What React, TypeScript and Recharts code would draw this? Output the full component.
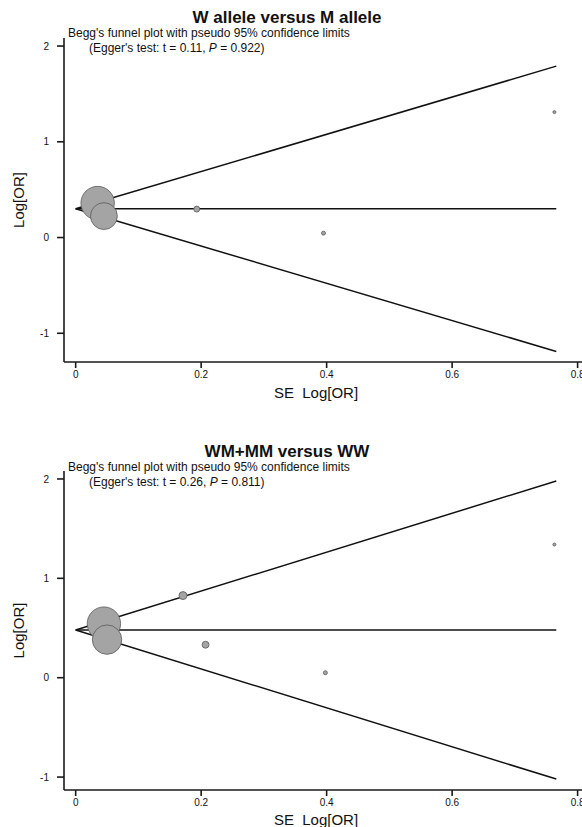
import React from "react";
import {
  ComposedChart,
  Line,
  Scatter,
  XAxis,
  YAxis,
  Label,
} from "recharts";

const FONT = '"Liberation Sans", Arial, Helvetica, sans-serif';

// W allele versus M allele
const topStudySE = [0.035, 0.045, 0.193, 0.395, 0.763];
const topStudyLogOR = [0.36, 0.224, 0.297, 0.046, 1.31];
const topStudyWeight = [279, 180, 9, 4, 2.25];
const topLimitSE = [0, 0.766];
const topPooled = [0.3, 0.3];
const topUpper = [0.3, 1.79];
const topLower = [0.3, -1.19];

// WM+MM versus WW
const botStudySE = [0.045, 0.05, 0.171, 0.207, 0.398, 0.763];
const botStudyLogOR = [0.544, 0.383, 0.826, 0.332, 0.05, 1.34];
const botStudyWeight = [279, 216, 16, 12, 4, 2.25];
const botLimitSE = [0, 0.766];
const botPooled = [0.48, 0.48];
const botUpper = [0.48, 1.98];
const botLower = [0.48, -1.02];

const xTicks = [0, 0.2, 0.4, 0.6, 0.8];
const yTicks = [-1, 0, 1, 2];

const toRows = (se: number[], v: number[], w?: number[]) =>
  se.map((s, i) => ({ se: s, v: v[i], w: w ? w[i] : 0 }));

const StudyDot = (props: any) => {
  const { cx, cy, payload } = props;
  if (cx == null || cy == null) return null;
  return (
    <circle
      cx={cx}
      cy={cy}
      r={Math.sqrt(payload.w)}
      fill="#a4a4a4"
      stroke="#5a5a5a"
      strokeWidth={0.8}
    />
  );
};

const YTitle = (props: any) => {
  const vb = props.viewBox || { x: 0, y: 0, height: 0 };
  const cx = 24;
  const cy = vb.y + vb.height / 2;
  return (
    <text
      x={cx}
      y={cy}
      transform={`rotate(-90, ${cx}, ${cy})`}
      textAnchor="middle"
      fontSize={15}
      fontFamily={FONT}
      fill="#111"
    >
      Log[OR]
    </text>
  );
};

const makeXTitle = (dy: number) => (props: any) => {
  const vb = props.viewBox || { x: 0, y: 0, width: 0 };
  return (
    <text
      x={vb.x + vb.width / 2 - 7}
      y={vb.y + dy}
      textAnchor="middle"
      fontSize={15}
      fontFamily={FONT}
      fill="#111"
    >
      {"SE\u00a0 Log[OR]"}
    </text>
  );
};

interface PanelProps {
  top: number;
  height: number;
  marginTop: number;
  xAxisHeight: number;
  yDomain: [number, number];
  studies: { se: number; v: number; w: number }[];
  pooled: { se: number; v: number }[];
  upper: { se: number; v: number }[];
  lower: { se: number; v: number }[];
  titleDy: number;
}

function FunnelPanel(p: PanelProps) {
  const axisColor = "#1a1a1a";
  return (
    <div style={{ position: "absolute", left: 0, top: p.top }}>
      <ComposedChart
        width={582}
        height={p.height}
        margin={{ top: p.marginTop, right: 0, bottom: 0, left: 0 }}
      >
        <XAxis
          type="number"
          dataKey="se"
          domain={[-0.0186, 0.807]}
          ticks={xTicks}
          allowDataOverflow
          height={p.xAxisHeight}
          interval={0}
          tickSize={6}
          tickMargin={3}
          axisLine={{ stroke: axisColor, strokeWidth: 1.6 }}
          tickLine={{ stroke: axisColor, strokeWidth: 1.6 }}
          tick={{ fontSize: 10, fill: "#111", fontFamily: FONT }}
        >
          <Label content={makeXTitle(p.titleDy)} />
        </XAxis>
        <YAxis
          type="number"
          dataKey="v"
          domain={p.yDomain}
          ticks={yTicks}
          allowDataOverflow
          width={64}
          interval={0}
          tickSize={7}
          tickMargin={8}
          axisLine={{ stroke: axisColor, strokeWidth: 1.6 }}
          tickLine={{ stroke: axisColor, strokeWidth: 1.6 }}
          tick={{ fontSize: 10, fill: "#111", fontFamily: FONT }}
        >
          <Label content={YTitle} />
        </YAxis>
        <Line
          data={p.upper}
          dataKey="v"
          type="linear"
          stroke="#111"
          strokeWidth={1.5}
          dot={false}
          activeDot={false}
          isAnimationActive={false}
        />
        <Line
          data={p.lower}
          dataKey="v"
          type="linear"
          stroke="#111"
          strokeWidth={1.5}
          dot={false}
          activeDot={false}
          isAnimationActive={false}
        />
        <Line
          data={p.pooled}
          dataKey="v"
          type="linear"
          stroke="#111"
          strokeWidth={1.5}
          dot={false}
          activeDot={false}
          isAnimationActive={false}
        />
        <Scatter
          data={p.studies}
          dataKey="v"
          shape={StudyDot}
          isAnimationActive={false}
        />
      </ComposedChart>
    </div>
  );
}

function Notes({ title, t, pval, y }: { title: string; t: string; pval: string; y: number }) {
  return (
    <g fontFamily={FONT} fill="#111">
      <text x={287} y={y} textAnchor="middle" fontSize={17} fontWeight="bold">
        {title}
      </text>
      <text x={68} y={y + 13.5} fontSize={12}>
        Begg's funnel plot with pseudo 95% confidence limits
      </text>
      <text x={89} y={y + 28.5} fontSize={12}>
        {`(Egger's test: t = ${t}, `}
        <tspan fontStyle="italic">P</tspan>
        {` = ${pval})`}
      </text>
    </g>
  );
}

export default function App() {
  return (
    <div
      style={{
        position: "absolute",
        left: 0,
        top: 0,
        width: 582,
        height: 827,
        background: "#fff",
        overflow: "hidden",
      }}
    >
      <FunnelPanel
        top={0}
        height={410}
        marginTop={38}
        xAxisHeight={48}
        yDomain={[-1.3, 2.084]}
        studies={toRows(topStudySE, topStudyLogOR, topStudyWeight)}
        pooled={toRows(topLimitSE, topPooled)}
        upper={toRows(topLimitSE, topUpper)}
        lower={toRows(topLimitSE, topLower)}
        titleDy={36}
      />
      <FunnelPanel
        top={420}
        height={407}
        marginTop={51}
        xAxisHeight={37}
        yDomain={[-1.13, 2.08]}
        studies={toRows(botStudySE, botStudyLogOR, botStudyWeight)}
        pooled={toRows(botLimitSE, botPooled)}
        upper={toRows(botLimitSE, botUpper)}
        lower={toRows(botLimitSE, botLower)}
        titleDy={35}
      />
      <svg
        width={582}
        height={827}
        style={{ position: "absolute", left: 0, top: 0, pointerEvents: "none" }}
      >
        <Notes title="W allele versus M allele" t="0.11" pval="0.922" y={23} />
        <Notes title="WM+MM versus WW" t="0.26" pval="0.811" y={457} />
      </svg>
    </div>
  );
}
